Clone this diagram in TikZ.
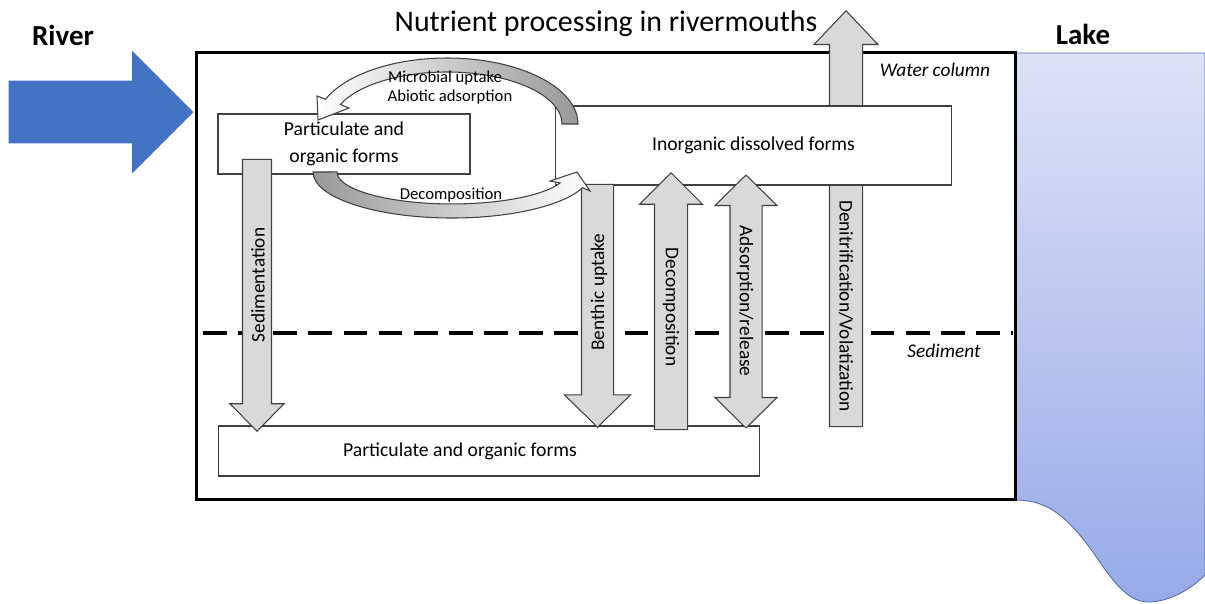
\documentclass[tikz,border=0pt]{standalone}
\usepackage{fontspec}
\setmainfont{Carlito}
\usetikzlibrary{positioning, shapes.arrows, calc}

\definecolor{riverblue}{HTML}{4472C4}
\definecolor{lakelight}{HTML}{DDE2F6}
\definecolor{lakedark}{HTML}{97AAE8}
\definecolor{lakeedge}{HTML}{5A6DA6}
\definecolor{flowgray}{HTML}{D9D9D9}
\definecolor{edgegray}{HTML}{404040}

\begin{document}
\begin{tikzpicture}[x=0.02cm, y=0.02cm,
  pool/.style={draw=edgegray, fill=white, line width=0.6pt, inner sep=0pt, align=center, font=\fontsize{11.2}{15}\selectfont},
  flow/.style={single arrow, draw=edgegray, fill=flowgray, line width=0.6pt, inner xsep=0pt, single arrow head indent=0pt, shape border rotate=180},
  flowlabel/.style={font=\fontsize{11}{13}\selectfont, inner sep=0pt},
  cyclelabel/.style={font=\fontsize{9.5}{11}\selectfont, inner sep=0pt, anchor=base},
  zonelabel/.style={font=\fontsize{11}{13}\selectfont\itshape, inner sep=0pt, anchor=base},
  placelabel/.style={font=\fontsize{16.5}{18}\selectfont\bfseries, inner sep=0pt, anchor=base},
]
\useasboundingbox (0,0) rectangle (1205,-603);

% lake
\draw[draw=lakeedge, line width=0.5pt, top color=lakelight, bottom color=lakedark]
  (1016,-53) -- (1205,-53) -- (1205,-575)
  .. controls (1190,-590) and (1170,-601) .. (1150,-602)
  .. controls (1130,-603) and (1115,-585) .. (1095,-555)
  .. controls (1070,-520) and (1050,-500) .. (1016,-500) -- cycle;

% rivermouth
\node[draw, line width=1.7pt, minimum width=16.4cm, minimum height=8.96cm, inner sep=0pt] (mouth) at (606,-276) {};
\node[single arrow, fill=riverblue, inner xsep=0pt, inner ysep=0.62cm, single arrow head extend=0.6cm, single arrow tip angle=90, single arrow head indent=0pt, minimum height=3.7cm, minimum width=2.44cm, shape border rotate=180, rotate=180, anchor=tip] (inflow) at (194,-112) {};

\node[font=\fontsize{17}{19}\selectfont, inner sep=0pt, anchor=base] (title) at (606,-31) {Nutrient processing in rivermouths};
\node[placelabel] (river) at (63,-45) {River};
\node[placelabel] (lake) at (1083,-44) {Lake};
\node[zonelabel] (water) at (935,-76) {Water column};
\node[zonelabel] (sediment) at (944,-357) {Sediment};

\draw[line width=2.3pt, dash pattern=on 13.5pt off 6.5pt] (203,-333) -- (1013,-333);

% gas loss through the surface
\node[flow, rotate=-90, anchor=tip, inner ysep=0.32cm, single arrow head extend=0.31cm, single arrow tip angle=87, minimum height=8.32cm, minimum width=1.26cm] (denit) at (846,-10) {};

% pools
\node[pool, minimum width=5.04cm, minimum height=1.2cm] (pof) at (344,-144) {Particulate and\\organic forms};
\node[pool, minimum width=7.94cm, minimum height=1.58cm] (idf) at (753.5,-145.5) {Inorganic dissolved forms};
\node[pool, minimum width=10.84cm, minimum height=1cm] (bof) at (489,-451) {};
\node[pool, draw=none, fill=none] (boftext) at (460,-451) {Particulate and organic forms};

% fluxes to and from the sediment
\node[flow, rotate=90, anchor=tip, inner ysep=0.28cm, single arrow head extend=0.25cm, single arrow tip angle=89, minimum height=5.44cm, minimum width=1.06cm] (sedim) at (257,-432) {};
\node[flow, rotate=90, anchor=tip, inner ysep=0.31cm, single arrow head extend=0.34cm, single arrow tip angle=91, minimum height=4.86cm, minimum width=1.3cm] (benthic) at (597.5,-428) {};
\node[flow, rotate=-90, anchor=tip, inner ysep=0.32cm, single arrow head extend=0.3cm, single arrow tip angle=90, minimum height=5.14cm, minimum width=1.24cm] (decomp) at (671,-172) {};
\node[flow, double arrow, rotate=90, inner ysep=0.31cm, double arrow head extend=0.3cm, double arrow tip angle=91, double arrow head indent=0pt, minimum height=5.06cm, minimum width=1.22cm] (adsorb) at (746,-301.5) {};

% cycle between the two pools
\coordinate (upC) at (447,-124);
\coordinate (downC) at (452,-172);
\draw[draw=edgegray, line width=0.6pt, left color=white, right color=black!40]
  ($(upC)+(131,0)$) arc[start angle=0, end angle=158, x radius=131, y radius=66]
  -- (317,-96) -- (318,-120) -- (349,-108) -- (340.4,-104.5)
  arc[start angle=158, end angle=0, x radius=115, y radius=52] -- cycle;
\draw[draw=edgegray, line width=0.6pt, left color=black!40, right color=white]
  ($(downC)+(-139,0)$) arc[start angle=180, end angle=340, x radius=139, y radius=46]
  -- (590,-191) -- (577,-172) -- (550,-181) -- (560.1,-182.9)
  arc[start angle=340, end angle=180, x radius=115, y radius=32] -- cycle;

\node[cyclelabel] (microbial) at (445,-82) {Microbial uptake};
\node[cyclelabel] (abiotic) at (450,-101) {Abiotic adsorption};
\node[cyclelabel] (decay) at (451,-199) {Decomposition};

% flux labels
\node[flowlabel, rotate=90] (sedimtext) at (258,-285) {Sedimentation};
\node[flowlabel, rotate=90] (benthictext) at (599,-292) {Benthic uptake};
\node[flowlabel, rotate=-90] (decomptext) at (671,-307) {Decomposition};
\node[flowlabel, rotate=-90] (adsorbtext) at (745,-301) {Adsorption/release};
\node[flowlabel, rotate=-90] (denittext) at (846,-306) {Denitrification/Volatization};
\end{tikzpicture}
\end{document}
